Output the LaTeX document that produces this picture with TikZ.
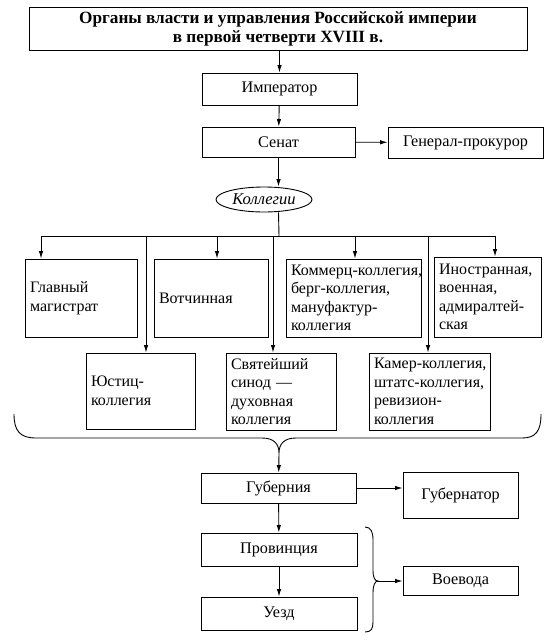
\documentclass[tikz,border=0pt]{standalone}
\usepackage{fontspec}
\setmainfont{Liberation Serif}
\usetikzlibrary{arrows.meta,shapes.geometric}
\exhyphenpenalty=10000
\hyphenpenalty=10000
\tikzset{
  box/.style={draw, line width=0.9pt, inner sep=4pt, inner xsep=5pt,
    font=\fontsize{16.2}{18.5}\selectfont, align=center},
  coll/.style={box, align=left, font=\fontsize{16}{18.5}\selectfont},
  arr/.style={-{Latex[length=7.5pt,width=4.5pt]}, line width=0.9pt},
}
\begin{document}
\begin{tikzpicture}[x=1pt, y=-1pt, line width=0.9pt]
      \useasboundingbox (0,0) rectangle (546,640);
      % top part
      \node[box, minimum width=498pt, minimum height=43pt,
        font=\fontsize{17.2}{19}\selectfont\bfseries] (title) at (278,28.5)
        {Органы власти и управления Российской империи\\в первой четверти XVIII в.};
      \node[box, minimum width=155pt, minimum height=32pt] (imp) at (279.5,89) {Император};
      \node[box, minimum width=153pt, minimum height=30pt] (sen) at (278.5,142) {Сенат};
      \node[box, minimum width=155pt, minimum height=31pt] (gp) at (465.5,142.5) {Генерал-прокурор};
      \node[box, ellipse, inner sep=0pt, minimum width=96pt, minimum height=25pt,
        font=\fontsize{16.5}{18}\selectfont\itshape] (kol) at (264,199.5) {Коллегии};
      % collegia
      \node[coll, text width=102pt, minimum height=78pt] (glav) at (81,298) {Главный\\магистрат};
      \node[coll, text width=104pt, minimum height=78pt] (vot) at (211,298) {Вотчинная};
      \node[coll, text width=125pt, minimum height=78pt] (kom) at (353.5,298)
        {Коммерц-коллегия,\\берг-коллегия,\\мануфактур-\\коллегия};
      \node[coll, text width=97pt, minimum height=80pt] (ino) at (487.5,297)
        {Иностранная,\\военная,\\адмиралтей-\\ская};
      \node[coll, text width=99pt, minimum height=76pt] (yus) at (140.5,391) {Юстиц-\\коллегия};
      \node[coll, text width=100pt, minimum height=77pt] (sin) at (281,391.5)
        {Святейший\\синод —\\духовная\\коллегия};
      \node[coll, text width=111pt, minimum height=77pt] (kam) at (429.5,391.5)
        {Камер-коллегия,\\штатс-коллегия,\\ревизион-\\коллегия};
      % local government
      \node[box, minimum width=155pt, minimum height=30pt] (gub) at (278.5,488) {Губерния};
      \node[box, minimum width=115pt, minimum height=46pt] (gbr) at (460.5,495) {Губернатор};
      \node[box, minimum width=156pt, minimum height=33pt] (pro) at (279,549.5) {Провинция};
      \node[box, minimum width=156pt, minimum height=33pt] (uez) at (279,613.5) {Уезд};
      \node[box, minimum width=115pt, minimum height=29pt] (voe) at (460.5,580.5) {Воевода};
      % bus of the collegia
      \coordinate (stem) at (279,236);
      \coordinate (b1) at (41,236);
      \coordinate (b2) at (146,236);
      \coordinate (b3) at (217,236);
      \coordinate (b4) at (273,236);
      \coordinate (b5) at (355,236);
      \coordinate (b6) at (428,236);
      \coordinate (b7) at (495,236);
      \coordinate (tip) at (279,453);
      \coordinate (tip2) at (378,581);
      \begin{scope}[arr]
        \draw (title.south -| imp) to (imp);
        \draw (imp) to (sen);
        \draw (sen) to (gp);
        \draw (sen.south) to (sen.south |- kol.north);
        \draw (b1) to (b1 |- glav.north);
        \draw (b2) to (b2 |- yus.north);
        \draw (b3) to (b3 |- vot.north);
        \draw (b4) to (b4 |- sin.north);
        \draw (b5) to (b5 |- kom.north);
        \draw (b6) to (b6 |- kam.north);
        \draw (b7) to (b7 |- ino.north);
        \draw (tip) to (gub);
        \draw (gub) to (gbr.west |- gub);
        \draw (gub) to (pro);
        \draw (pro) to (uez);
        \draw (tip2) to (voe.west |- tip2);
      \end{scope}
      \draw (sen.south |- kol.south) to (stem);
      \draw (b1) to (b7);
      % braces
      \draw (14,414) .. controls (14,431) and (20,438) .. (36,438) -- (262,438)
        .. controls (274,438) and (279,444) .. (tip)
        .. controls (279,444) and (284,438) .. (296,438) -- (522,438)
        .. controls (536,438) and (541,431) .. (541,414);
      \draw (365,527) .. controls (371,527) and (373,532) .. (373,540) -- (373,570)
        .. controls (373,578) and (375,581) .. (tip2)
        .. controls (375,581) and (373,585) .. (373,593) -- (373,622)
        .. controls (373,629) and (371,632) .. (365,632);
    \end{tikzpicture}
\end{document}
